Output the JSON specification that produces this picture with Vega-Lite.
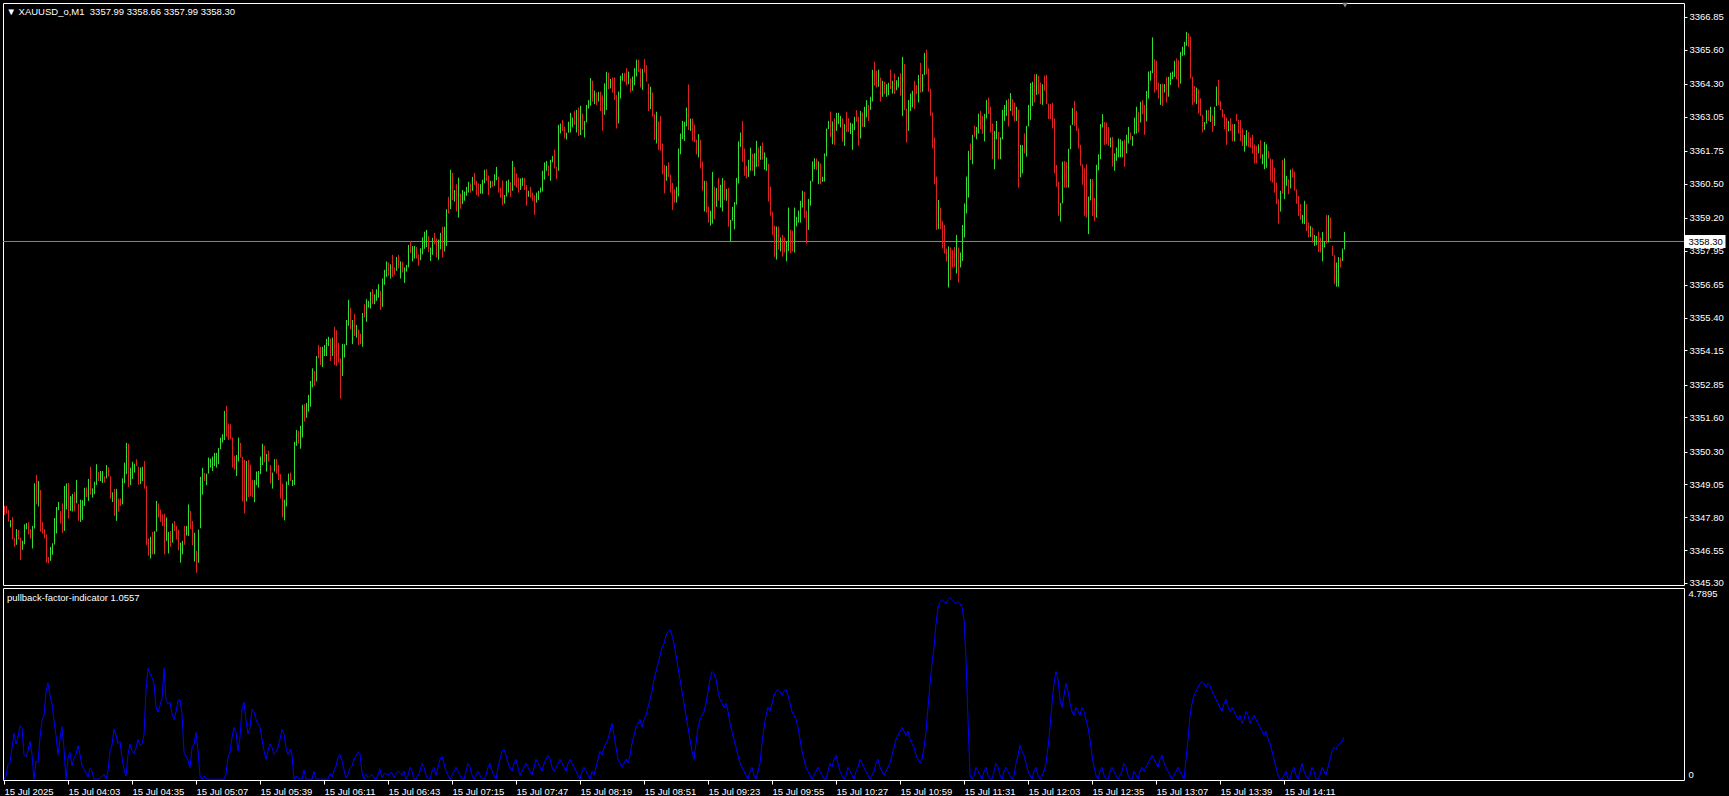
{
"$schema": "https://vega.github.io/schema/vega-lite/v6.json",
"background": "#000000",
"padding": {"left": 1, "top": 2, "right": 0, "bottom": 0},
"config": {
"view": {"stroke": "#ffffff", "strokeWidth": 1, "fill": "#000000"},
"font": "Liberation Sans",
"axis": {"labelFont": "Liberation Sans", "labelFontSize": 9.5, "labelColor": "#ffffff", "tickColor": "#ffffff", "domain": false, "grid": false, "labelOverlap": false},
"title": {"font": "Liberation Sans", "fontSize": 9.5, "fontWeight": "normal", "color": "#ffffff", "anchor": "start", "baseline": "bottom"}
},
"spacing": 3,
"bounds": "flush",
"datasets": {"bars": [
{"m":211,"o":3348.23,"h":3348.23,"l":3347.89,"c":3347.89,"p":0},
{"m":212,"o":3348.23,"h":3348.23,"l":3347.94,"c":3347.94,"p":0.08},
{"m":213,"o":3348.08,"h":3348.08,"l":3347.63,"c":3347.63,"p":0.37},
{"m":214,"o":3347.41,"h":3347.69,"l":3347.41,"c":3347.69,"p":0.41},
{"m":215,"o":3347.81,"h":3347.81,"l":3346.96,"c":3346.96,"p":0.79},
{"m":216,"o":3347.02,"h":3347.02,"l":3346.67,"c":3346.67,"p":1.15},
{"m":217,"o":3346.75,"h":3347.35,"l":3346.75,"c":3347.35,"p":0.88},
{"m":218,"o":3347.32,"h":3347.32,"l":3346.94,"c":3346.94,"p":1.05},
{"m":219,"o":3347.02,"h":3347.02,"l":3346.17,"c":3346.17,"p":1.34},
{"m":220,"o":3346.56,"h":3346.90,"l":3346.56,"c":3346.90,"p":1.30},
{"m":221,"o":3346.77,"h":3347.53,"l":3346.77,"c":3347.53,"p":0.61},
{"m":222,"o":3347.34,"h":3347.58,"l":3347.34,"c":3347.58,"p":0.56},
{"m":223,"o":3347.61,"h":3347.61,"l":3347.15,"c":3347.15,"p":0.71},
{"m":224,"o":3347.34,"h":3347.34,"l":3346.99,"c":3346.99,"p":0.95},
{"m":225,"o":3346.61,"h":3347.47,"l":3346.61,"c":3347.47,"p":0.62},
{"m":226,"o":3347.37,"h":3349.09,"l":3347.37,"c":3349.09,"p":0},
{"m":227,"o":3349.41,"h":3349.41,"l":3348.29,"c":3348.29,"p":0.46},
{"m":228,"o":3348.21,"h":3349.18,"l":3348.21,"c":3349.18,"p":0.41},
{"m":229,"o":3348.84,"h":3348.84,"l":3347.25,"c":3347.25,"p":1.05},
{"m":230,"o":3347.62,"h":3347.62,"l":3347.18,"c":3347.18,"p":1.47},
{"m":231,"o":3347.35,"h":3347.35,"l":3347.00,"c":3347.00,"p":1.59},
{"m":232,"o":3347.15,"h":3347.15,"l":3346.07,"c":3346.07,"p":2.19},
{"m":233,"o":3346.29,"h":3346.29,"l":3346.04,"c":3346.04,"p":2.41},
{"m":234,"o":3346.14,"h":3346.67,"l":3346.14,"c":3346.67,"p":2.10},
{"m":235,"o":3346.37,"h":3346.81,"l":3346.37,"c":3346.81,"p":1.89},
{"m":236,"o":3346.76,"h":3347.77,"l":3346.76,"c":3347.77,"p":1.47},
{"m":237,"o":3347.18,"h":3348.19,"l":3347.18,"c":3348.19,"p":1.09},
{"m":238,"o":3348.07,"h":3348.38,"l":3348.07,"c":3348.38,"p":0.62},
{"m":239,"o":3348.04,"h":3348.04,"l":3347.56,"c":3347.56,"p":1.00},
{"m":240,"o":3348.33,"h":3348.33,"l":3347.20,"c":3347.20,"p":1.32},
{"m":241,"o":3347.28,"h":3348.99,"l":3347.28,"c":3348.99,"p":0.75},
{"m":242,"o":3348.10,"h":3349.09,"l":3348.10,"c":3349.09,"p":0},
{"m":243,"o":3349.11,"h":3349.11,"l":3347.75,"c":3347.75,"p":0.54},
{"m":244,"o":3348.04,"h":3348.60,"l":3348.04,"c":3348.60,"p":0.67},
{"m":245,"o":3348.02,"h":3348.69,"l":3348.02,"c":3348.69,"p":0.33},
{"m":246,"o":3348.76,"h":3348.76,"l":3348.02,"c":3348.02,"p":0.54},
{"m":247,"o":3348.33,"h":3349.22,"l":3348.33,"c":3349.22,"p":0.62},
{"m":248,"o":3348.31,"h":3348.31,"l":3347.66,"c":3347.66,"p":0.84},
{"m":249,"o":3347.62,"h":3348.47,"l":3347.62,"c":3348.47,"p":0.62},
{"m":250,"o":3347.70,"h":3348.45,"l":3347.70,"c":3348.45,"p":0.33},
{"m":251,"o":3348.23,"h":3348.92,"l":3348.23,"c":3348.92,"p":0.26},
{"m":252,"o":3348.94,"h":3348.94,"l":3348.57,"c":3348.57,"p":0.16},
{"m":253,"o":3348.42,"h":3349.26,"l":3348.42,"c":3349.26,"p":0.05},
{"m":254,"o":3349.72,"h":3349.72,"l":3348.66,"c":3348.66,"p":0.27},
{"m":255,"o":3348.55,"h":3348.90,"l":3348.55,"c":3348.90,"p":0.20},
{"m":256,"o":3348.68,"h":3349.15,"l":3348.68,"c":3349.15,"p":0},
{"m":257,"o":3349.03,"h":3349.82,"l":3349.03,"c":3349.82,"p":0},
{"m":258,"o":3349.53,"h":3349.53,"l":3349.18,"c":3349.18,"p":0},
{"m":259,"o":3349.18,"h":3349.56,"l":3349.18,"c":3349.56,"p":0.03},
{"m":260,"o":3349.11,"h":3349.56,"l":3349.11,"c":3349.56,"p":0.08},
{"m":261,"o":3349.36,"h":3349.36,"l":3349.12,"c":3349.12,"p":0.12},
{"m":262,"o":3349.28,"h":3349.79,"l":3349.28,"c":3349.79,"p":0},
{"m":263,"o":3349.70,"h":3349.70,"l":3349.35,"c":3349.35,"p":0.20},
{"m":264,"o":3349.36,"h":3349.36,"l":3348.51,"c":3348.51,"p":0.71},
{"m":265,"o":3348.38,"h":3348.75,"l":3348.38,"c":3348.75,"p":0.86},
{"m":266,"o":3348.88,"h":3348.88,"l":3347.85,"c":3347.85,"p":1.26},
{"m":267,"o":3347.66,"h":3348.88,"l":3347.66,"c":3348.88,"p":1.11},
{"m":268,"o":3348.51,"h":3348.51,"l":3348.02,"c":3348.02,"p":0.89},
{"m":269,"o":3348.52,"h":3348.52,"l":3348.23,"c":3348.23,"p":0.95},
{"m":270,"o":3348.29,"h":3349.28,"l":3348.29,"c":3349.28,"p":0.54},
{"m":271,"o":3349.09,"h":3349.88,"l":3349.09,"c":3349.88,"p":0.24},
{"m":272,"o":3349.44,"h":3350.63,"l":3349.44,"c":3350.63,"p":0.08},
{"m":273,"o":3350.60,"h":3350.60,"l":3348.95,"c":3348.95,"p":0.62},
{"m":274,"o":3349.02,"h":3349.69,"l":3349.02,"c":3349.69,"p":0.88},
{"m":275,"o":3349.26,"h":3349.91,"l":3349.26,"c":3349.91,"p":0.71},
{"m":276,"o":3349.50,"h":3349.84,"l":3349.50,"c":3349.84,"p":0.64},
{"m":277,"o":3350.01,"h":3350.01,"l":3349.75,"c":3349.75,"p":0.79},
{"m":278,"o":3349.73,"h":3349.73,"l":3349.04,"c":3349.04,"p":1.00},
{"m":279,"o":3349.06,"h":3349.69,"l":3349.06,"c":3349.69,"p":0.84},
{"m":280,"o":3349.18,"h":3349.72,"l":3349.18,"c":3349.72,"p":0.88},
{"m":281,"o":3349.94,"h":3349.94,"l":3348.89,"c":3348.89,"p":1.11},
{"m":282,"o":3348.99,"h":3348.99,"l":3346.75,"c":3346.75,"p":2.23},
{"m":283,"o":3346.99,"h":3346.99,"l":3346.33,"c":3346.33,"p":2.78},
{"m":284,"o":3346.23,"h":3347.06,"l":3346.23,"c":3347.06,"p":2.65},
{"m":285,"o":3347.24,"h":3347.24,"l":3346.39,"c":3346.39,"p":2.55},
{"m":286,"o":3346.39,"h":3347.27,"l":3346.39,"c":3347.27,"p":2.40},
{"m":287,"o":3347.25,"h":3348.42,"l":3347.25,"c":3348.42,"p":1.81},
{"m":288,"o":3348.32,"h":3348.32,"l":3347.79,"c":3347.79,"p":1.68},
{"m":289,"o":3348.09,"h":3348.09,"l":3347.62,"c":3347.62,"p":1.85},
{"m":290,"o":3347.91,"h":3347.91,"l":3347.47,"c":3347.47,"p":2.02},
{"m":291,"o":3347.94,"h":3347.94,"l":3346.39,"c":3346.39,"p":2.78},
{"m":292,"o":3346.90,"h":3347.79,"l":3346.90,"c":3347.79,"p":1.97},
{"m":293,"o":3346.42,"h":3347.24,"l":3346.42,"c":3347.24,"p":1.89},
{"m":294,"o":3347.28,"h":3347.28,"l":3346.67,"c":3346.67,"p":1.93},
{"m":295,"o":3346.83,"h":3347.57,"l":3346.83,"c":3347.57,"p":1.64},
{"m":296,"o":3347.66,"h":3347.66,"l":3347.28,"c":3347.28,"p":1.49},
{"m":297,"o":3347.47,"h":3347.47,"l":3346.96,"c":3346.96,"p":1.68},
{"m":298,"o":3347.32,"h":3347.32,"l":3346.54,"c":3346.54,"p":1.97},
{"m":299,"o":3346.07,"h":3346.83,"l":3346.07,"c":3346.83,"p":1.99},
{"m":300,"o":3346.39,"h":3346.90,"l":3346.39,"c":3346.90,"p":1.64},
{"m":301,"o":3347.47,"h":3347.47,"l":3346.75,"c":3346.75,"p":0.67},
{"m":302,"o":3347.10,"h":3347.47,"l":3347.10,"c":3347.47,"p":0.58},
{"m":303,"o":3347.09,"h":3348.29,"l":3347.09,"c":3348.29,"p":0.46},
{"m":304,"o":3348.04,"h":3348.04,"l":3347.35,"c":3347.35,"p":0.29},
{"m":305,"o":3347.66,"h":3347.66,"l":3346.73,"c":3346.73,"p":0.79},
{"m":306,"o":3346.11,"h":3347.21,"l":3346.11,"c":3347.21,"p":0.88},
{"m":307,"o":3346.52,"h":3346.52,"l":3345.69,"c":3345.69,"p":1.17},
{"m":308,"o":3346.07,"h":3347.33,"l":3346.07,"c":3347.33,"p":0.71},
{"m":309,"o":3347.38,"h":3349.34,"l":3347.38,"c":3349.34,"p":0.08},
{"m":310,"o":3348.66,"h":3349.68,"l":3348.66,"c":3349.68,"p":0},
{"m":311,"o":3349.49,"h":3349.49,"l":3349.18,"c":3349.18,"p":0.08},
{"m":312,"o":3349.02,"h":3349.46,"l":3349.02,"c":3349.46,"p":0.03},
{"m":313,"o":3349.46,"h":3350.07,"l":3349.46,"c":3350.07,"p":0},
{"m":314,"o":3349.69,"h":3350.03,"l":3349.69,"c":3350.03,"p":0},
{"m":315,"o":3349.56,"h":3350.11,"l":3349.56,"c":3350.11,"p":0},
{"m":316,"o":3349.75,"h":3350.25,"l":3349.75,"c":3350.25,"p":0},
{"m":317,"o":3349.69,"h":3350.25,"l":3349.69,"c":3350.25,"p":0},
{"m":318,"o":3349.82,"h":3350.43,"l":3349.82,"c":3350.43,"p":0},
{"m":319,"o":3350.39,"h":3350.83,"l":3350.39,"c":3350.83,"p":0},
{"m":320,"o":3350.64,"h":3350.96,"l":3350.64,"c":3350.96,"p":0},
{"m":321,"o":3350.74,"h":3351.85,"l":3350.74,"c":3351.85,"p":0},
{"m":322,"o":3352.04,"h":3352.04,"l":3350.87,"c":3350.87,"p":0.12},
{"m":323,"o":3351.37,"h":3351.37,"l":3350.74,"c":3350.74,"p":0.56},
{"m":324,"o":3351.34,"h":3351.34,"l":3350.77,"c":3350.77,"p":0.67},
{"m":325,"o":3350.83,"h":3350.83,"l":3349.69,"c":3349.69,"p":1.05},
{"m":326,"o":3350.13,"h":3350.13,"l":3349.61,"c":3349.61,"p":1.30},
{"m":327,"o":3349.37,"h":3350.17,"l":3349.37,"c":3350.17,"p":1.17},
{"m":328,"o":3349.92,"h":3350.83,"l":3349.92,"c":3350.83,"p":0.71},
{"m":329,"o":3350.63,"h":3350.63,"l":3350.07,"c":3350.07,"p":1.05},
{"m":330,"o":3350.10,"h":3350.10,"l":3348.40,"c":3348.40,"p":1.76},
{"m":331,"o":3349.99,"h":3349.99,"l":3347.94,"c":3347.94,"p":1.93},
{"m":332,"o":3348.40,"h":3349.94,"l":3348.40,"c":3349.94,"p":1.47},
{"m":333,"o":3349.98,"h":3349.98,"l":3348.57,"c":3348.57,"p":1.13},
{"m":334,"o":3349.80,"h":3349.80,"l":3348.60,"c":3348.60,"p":1.30},
{"m":335,"o":3349.22,"h":3349.22,"l":3348.57,"c":3348.57,"p":1.76},
{"m":336,"o":3348.37,"h":3349.21,"l":3348.37,"c":3349.21,"p":1.68},
{"m":337,"o":3349.02,"h":3349.54,"l":3349.02,"c":3349.54,"p":1.51},
{"m":338,"o":3348.93,"h":3349.56,"l":3348.93,"c":3349.56,"p":1.38},
{"m":339,"o":3349.44,"h":3350.11,"l":3349.44,"c":3350.11,"p":1.30},
{"m":340,"o":3349.79,"h":3350.60,"l":3349.79,"c":3350.60,"p":1.00},
{"m":341,"o":3350.52,"h":3350.52,"l":3349.89,"c":3349.89,"p":0.71},
{"m":342,"o":3349.54,"h":3350.21,"l":3349.54,"c":3350.21,"p":0.50},
{"m":343,"o":3350.33,"h":3350.33,"l":3349.92,"c":3349.92,"p":0.71},
{"m":344,"o":3349.79,"h":3349.79,"l":3349.08,"c":3349.08,"p":0.89},
{"m":345,"o":3348.89,"h":3349.50,"l":3348.89,"c":3349.50,"p":0.79},
{"m":346,"o":3349.54,"h":3350.01,"l":3349.54,"c":3350.01,"p":0.62},
{"m":347,"o":3350.02,"h":3350.02,"l":3349.46,"c":3349.46,"p":0.67},
{"m":348,"o":3349.80,"h":3349.80,"l":3349.21,"c":3349.21,"p":0.79},
{"m":349,"o":3349.44,"h":3349.44,"l":3348.51,"c":3348.51,"p":1.00},
{"m":350,"o":3349.08,"h":3349.08,"l":3347.79,"c":3347.79,"p":1.25},
{"m":351,"o":3347.68,"h":3348.47,"l":3347.68,"c":3348.47,"p":1.13},
{"m":352,"o":3348.21,"h":3349.16,"l":3348.21,"c":3349.16,"p":0.79},
{"m":353,"o":3349.03,"h":3349.46,"l":3349.03,"c":3349.46,"p":0.62},
{"m":354,"o":3349.50,"h":3349.50,"l":3349.18,"c":3349.18,"p":0.75},
{"m":355,"o":3348.99,"h":3349.22,"l":3348.99,"c":3349.22,"p":0.62},
{"m":356,"o":3349.03,"h":3350.67,"l":3349.03,"c":3350.67,"p":0},
{"m":357,"o":3350.52,"h":3351.12,"l":3350.52,"c":3351.12,"p":0.08},
{"m":358,"o":3351.09,"h":3351.09,"l":3350.60,"c":3350.60,"p":0.03},
{"m":359,"o":3350.41,"h":3351.28,"l":3350.41,"c":3351.28,"p":0},
{"m":360,"o":3350.83,"h":3352.08,"l":3350.83,"c":3352.08,"p":0},
{"m":361,"o":3352.10,"h":3352.10,"l":3351.44,"c":3351.44,"p":0.24},
{"m":362,"o":3351.59,"h":3352.15,"l":3351.59,"c":3352.15,"p":0},
{"m":363,"o":3351.82,"h":3352.46,"l":3351.82,"c":3352.46,"p":0},
{"m":364,"o":3352.01,"h":3352.99,"l":3352.01,"c":3352.99,"p":0},
{"m":365,"o":3352.74,"h":3353.47,"l":3352.74,"c":3353.47,"p":0},
{"m":366,"o":3353.37,"h":3353.37,"l":3352.80,"c":3352.80,"p":0.20},
{"m":367,"o":3352.97,"h":3353.94,"l":3352.97,"c":3353.94,"p":0},
{"m":368,"o":3354.36,"h":3354.36,"l":3353.85,"c":3353.85,"p":0},
{"m":369,"o":3354.29,"h":3354.29,"l":3353.60,"c":3353.60,"p":0},
{"m":370,"o":3353.52,"h":3354.29,"l":3353.52,"c":3354.29,"p":0},
{"m":371,"o":3353.94,"h":3354.36,"l":3353.94,"c":3354.36,"p":0},
{"m":372,"o":3353.94,"h":3354.59,"l":3353.94,"c":3354.59,"p":0},
{"m":373,"o":3354.32,"h":3354.67,"l":3354.32,"c":3354.67,"p":0},
{"m":374,"o":3354.60,"h":3354.60,"l":3353.75,"c":3353.75,"p":0.14},
{"m":375,"o":3353.94,"h":3354.64,"l":3353.94,"c":3354.64,"p":0.05},
{"m":376,"o":3355.05,"h":3355.05,"l":3353.60,"c":3353.60,"p":0.20},
{"m":377,"o":3354.92,"h":3354.92,"l":3353.56,"c":3353.56,"p":0.33},
{"m":378,"o":3354.44,"h":3354.44,"l":3353.69,"c":3353.69,"p":0.54},
{"m":379,"o":3353.85,"h":3353.85,"l":3352.32,"c":3352.32,"p":0.62},
{"m":380,"o":3353.18,"h":3354.40,"l":3353.18,"c":3354.40,"p":0.46},
{"m":381,"o":3353.88,"h":3354.39,"l":3353.88,"c":3354.39,"p":0.24},
{"m":382,"o":3354.35,"h":3355.31,"l":3354.35,"c":3355.31,"p":0.03},
{"m":383,"o":3355.09,"h":3356.08,"l":3355.09,"c":3356.08,"p":0.12},
{"m":384,"o":3355.78,"h":3355.78,"l":3354.96,"c":3354.96,"p":0.27},
{"m":385,"o":3354.39,"h":3355.31,"l":3354.39,"c":3355.31,"p":0.33},
{"m":386,"o":3355.54,"h":3355.54,"l":3354.70,"c":3354.70,"p":0.50},
{"m":387,"o":3354.64,"h":3355.12,"l":3354.64,"c":3355.12,"p":0.58},
{"m":388,"o":3354.95,"h":3354.95,"l":3354.36,"c":3354.36,"p":0.69},
{"m":389,"o":3354.79,"h":3354.79,"l":3354.39,"c":3354.39,"p":0.64},
{"m":390,"o":3354.29,"h":3355.58,"l":3354.29,"c":3355.58,"p":0.16},
{"m":391,"o":3355.91,"h":3355.91,"l":3355.40,"c":3355.40,"p":0},
{"m":392,"o":3355.24,"h":3356.10,"l":3355.24,"c":3356.10,"p":0.12},
{"m":393,"o":3355.78,"h":3356.04,"l":3355.78,"c":3356.04,"p":0.03},
{"m":394,"o":3355.75,"h":3356.38,"l":3355.75,"c":3356.38,"p":0.08},
{"m":395,"o":3356.49,"h":3356.49,"l":3355.91,"c":3355.91,"p":0.12},
{"m":396,"o":3355.91,"h":3356.29,"l":3355.91,"c":3356.29,"p":0.03},
{"m":397,"o":3356.04,"h":3356.48,"l":3356.04,"c":3356.48,"p":0},
{"m":398,"o":3356.16,"h":3356.67,"l":3356.16,"c":3356.67,"p":0.12},
{"m":399,"o":3356.42,"h":3356.42,"l":3355.69,"c":3355.69,"p":0.26},
{"m":400,"o":3355.81,"h":3356.89,"l":3355.81,"c":3356.89,"p":0.03},
{"m":401,"o":3356.65,"h":3357.22,"l":3356.65,"c":3357.22,"p":0.14},
{"m":402,"o":3356.95,"h":3357.54,"l":3356.95,"c":3357.54,"p":0.14},
{"m":403,"o":3357.50,"h":3357.50,"l":3356.99,"c":3356.99,"p":0.10},
{"m":404,"o":3356.89,"h":3357.43,"l":3356.89,"c":3357.43,"p":0.16},
{"m":405,"o":3357.79,"h":3357.79,"l":3356.95,"c":3356.95,"p":0.16},
{"m":406,"o":3357.31,"h":3357.31,"l":3357.03,"c":3357.03,"p":0.03},
{"m":407,"o":3357.18,"h":3357.71,"l":3357.18,"c":3357.71,"p":0.14},
{"m":408,"o":3357.79,"h":3357.79,"l":3357.28,"c":3357.28,"p":0.20},
{"m":409,"o":3356.89,"h":3357.54,"l":3356.89,"c":3357.54,"p":0.16},
{"m":410,"o":3357.52,"h":3357.52,"l":3357.12,"c":3357.12,"p":0.1},
{"m":411,"o":3356.72,"h":3357.31,"l":3356.72,"c":3357.31,"p":0.2},
{"m":412,"o":3357.15,"h":3357.41,"l":3357.15,"c":3357.41,"p":0},
{"m":413,"o":3357.31,"h":3358.17,"l":3357.31,"c":3358.17,"p":0.1},
{"m":414,"o":3358.32,"h":3358.32,"l":3357.87,"c":3357.87,"p":0.3},
{"m":415,"o":3357.54,"h":3358.12,"l":3357.54,"c":3358.12,"p":0.2},
{"m":416,"o":3357.65,"h":3358.13,"l":3357.65,"c":3358.13,"p":0},
{"m":417,"o":3358.09,"h":3358.09,"l":3357.65,"c":3357.65,"p":0},
{"m":418,"o":3357.81,"h":3357.81,"l":3357.37,"c":3357.37,"p":0.1},
{"m":419,"o":3357.59,"h":3358.04,"l":3357.59,"c":3358.04,"p":0.2},
{"m":420,"o":3357.81,"h":3358.46,"l":3357.81,"c":3358.46,"p":0.4},
{"m":421,"o":3358.02,"h":3358.67,"l":3358.02,"c":3358.67,"p":0.3},
{"m":422,"o":3358.09,"h":3358.74,"l":3358.09,"c":3358.74,"p":0.1},
{"m":423,"o":3358.50,"h":3358.50,"l":3357.89,"c":3357.89,"p":0},
{"m":424,"o":3357.56,"h":3358.07,"l":3357.56,"c":3358.07,"p":0},
{"m":425,"o":3357.79,"h":3358.44,"l":3357.79,"c":3358.44,"p":0.2},
{"m":426,"o":3358.63,"h":3358.63,"l":3358.19,"c":3358.19,"p":0.3},
{"m":427,"o":3358.42,"h":3358.42,"l":3357.69,"c":3357.69,"p":0.1},
{"m":428,"o":3357.60,"h":3358.37,"l":3357.60,"c":3358.37,"p":0.3},
{"m":429,"o":3358.00,"h":3358.63,"l":3358.00,"c":3358.63,"p":0.5},
{"m":430,"o":3358.86,"h":3358.86,"l":3357.69,"c":3357.69,"p":0.57},
{"m":431,"o":3357.92,"h":3358.86,"l":3357.92,"c":3358.86,"p":0.4},
{"m":432,"o":3358.13,"h":3359.53,"l":3358.13,"c":3359.53,"p":0.2},
{"m":433,"o":3360.00,"h":3360.00,"l":3359.36,"c":3359.36,"p":0.1},
{"m":434,"o":3359.53,"h":3361.03,"l":3359.53,"c":3361.03,"p":0},
{"m":435,"o":3360.91,"h":3360.91,"l":3359.87,"c":3359.87,"p":0.1},
{"m":436,"o":3359.81,"h":3360.26,"l":3359.81,"c":3360.26,"p":0.2},
{"m":437,"o":3360.48,"h":3360.48,"l":3359.44,"c":3359.44,"p":0.3},
{"m":438,"o":3359.21,"h":3360.73,"l":3359.21,"c":3360.73,"p":0.2},
{"m":439,"o":3360.12,"h":3360.12,"l":3359.55,"c":3359.55,"p":0.1},
{"m":440,"o":3359.72,"h":3360.26,"l":3359.72,"c":3360.26,"p":0},
{"m":441,"o":3359.85,"h":3360.20,"l":3359.85,"c":3360.20,"p":0},
{"m":442,"o":3360.04,"h":3360.38,"l":3360.04,"c":3360.38,"p":0.2},
{"m":443,"o":3360.16,"h":3360.57,"l":3360.16,"c":3360.57,"p":0.4},
{"m":444,"o":3360.51,"h":3360.51,"l":3360.16,"c":3360.16,"p":0.3},
{"m":445,"o":3360.23,"h":3360.76,"l":3360.23,"c":3360.76,"p":0.1},
{"m":446,"o":3360.91,"h":3360.91,"l":3360.45,"c":3360.45,"p":0},
{"m":447,"o":3360.61,"h":3360.61,"l":3360.07,"c":3360.07,"p":0.1},
{"m":448,"o":3360.51,"h":3360.51,"l":3360.01,"c":3360.01,"p":0.2},
{"m":449,"o":3360.12,"h":3360.48,"l":3360.12,"c":3360.48,"p":0.1},
{"m":450,"o":3360.12,"h":3360.65,"l":3360.12,"c":3360.65,"p":0},
{"m":451,"o":3360.51,"h":3361.03,"l":3360.51,"c":3361.03,"p":0},
{"m":452,"o":3361.06,"h":3361.06,"l":3360.61,"c":3360.61,"p":0.1},
{"m":453,"o":3360.81,"h":3360.81,"l":3360.07,"c":3360.07,"p":0.3},
{"m":454,"o":3360.33,"h":3360.61,"l":3360.33,"c":3360.61,"p":0.4},
{"m":455,"o":3360.61,"h":3360.61,"l":3360.38,"c":3360.38,"p":0.2},
{"m":456,"o":3360.42,"h":3360.86,"l":3360.42,"c":3360.86,"p":0.1},
{"m":457,"o":3360.63,"h":3361.14,"l":3360.63,"c":3361.14,"p":0},
{"m":458,"o":3360.77,"h":3360.77,"l":3360.16,"c":3360.16,"p":0.3},
{"m":459,"o":3360.35,"h":3360.35,"l":3359.97,"c":3359.97,"p":0.5},
{"m":460,"o":3360.63,"h":3360.63,"l":3359.69,"c":3359.69,"p":0.7},
{"m":461,"o":3359.74,"h":3360.07,"l":3359.74,"c":3360.07,"p":0.75},
{"m":462,"o":3360.01,"h":3360.61,"l":3360.01,"c":3360.61,"p":0.6},
{"m":463,"o":3360.16,"h":3360.65,"l":3360.16,"c":3360.65,"p":0.4},
{"m":464,"o":3360.56,"h":3360.56,"l":3360.00,"c":3360.00,"p":0.3},
{"m":465,"o":3360.23,"h":3361.37,"l":3360.23,"c":3361.37,"p":0.2},
{"m":466,"o":3361.14,"h":3361.14,"l":3360.42,"c":3360.42,"p":0.4},
{"m":467,"o":3360.89,"h":3360.89,"l":3360.35,"c":3360.35,"p":0.5},
{"m":468,"o":3360.73,"h":3360.73,"l":3360.16,"c":3360.16,"p":0.3},
{"m":469,"o":3360.26,"h":3360.70,"l":3360.26,"c":3360.70,"p":0.1},
{"m":470,"o":3360.42,"h":3360.73,"l":3360.42,"c":3360.73,"p":0.2},
{"m":471,"o":3360.72,"h":3360.72,"l":3360.26,"c":3360.26,"p":0.3},
{"m":472,"o":3360.45,"h":3360.45,"l":3359.66,"c":3359.66,"p":0.4},
{"m":473,"o":3360.00,"h":3360.23,"l":3360.00,"c":3360.23,"p":0.3},
{"m":474,"o":3360.38,"h":3360.38,"l":3359.97,"c":3359.97,"p":0.2},
{"m":475,"o":3360.16,"h":3360.16,"l":3359.85,"c":3359.85,"p":0.1},
{"m":476,"o":3360.06,"h":3360.06,"l":3359.31,"c":3359.31,"p":0.3},
{"m":477,"o":3359.78,"h":3360.16,"l":3359.78,"c":3360.16,"p":0.5},
{"m":478,"o":3359.88,"h":3360.23,"l":3359.88,"c":3360.23,"p":0.4},
{"m":479,"o":3360.16,"h":3360.35,"l":3360.16,"c":3360.35,"p":0.3},
{"m":480,"o":3360.20,"h":3360.99,"l":3360.20,"c":3360.99,"p":0.2},
{"m":481,"o":3360.65,"h":3361.31,"l":3360.65,"c":3361.31,"p":0.4},
{"m":482,"o":3360.99,"h":3361.37,"l":3360.99,"c":3361.37,"p":0.5},
{"m":483,"o":3361.19,"h":3361.19,"l":3360.80,"c":3360.80,"p":0.6},
{"m":484,"o":3360.61,"h":3361.41,"l":3360.61,"c":3361.41,"p":0.5},
{"m":485,"o":3361.31,"h":3361.56,"l":3361.31,"c":3361.56,"p":0.3},
{"m":486,"o":3361.79,"h":3361.79,"l":3361.08,"c":3361.08,"p":0.2},
{"m":487,"o":3361.14,"h":3361.14,"l":3360.67,"c":3360.67,"p":0.3},
{"m":488,"o":3360.99,"h":3362.74,"l":3360.99,"c":3362.74,"p":0.4},
{"m":489,"o":3362.41,"h":3362.79,"l":3362.41,"c":3362.79,"p":0.5},
{"m":490,"o":3362.92,"h":3362.92,"l":3362.51,"c":3362.51,"p":0.4},
{"m":491,"o":3362.67,"h":3362.67,"l":3362.22,"c":3362.22,"p":0.3},
{"m":492,"o":3362.18,"h":3362.44,"l":3362.18,"c":3362.44,"p":0.2},
{"m":493,"o":3362.44,"h":3362.86,"l":3362.44,"c":3362.86,"p":0.4},
{"m":494,"o":3362.45,"h":3363.20,"l":3362.45,"c":3363.20,"p":0.5},
{"m":495,"o":3362.64,"h":3363.02,"l":3362.64,"c":3363.02,"p":0.4},
{"m":496,"o":3363.27,"h":3363.27,"l":3362.74,"c":3362.74,"p":0.3},
{"m":497,"o":3362.45,"h":3363.31,"l":3362.45,"c":3363.31,"p":0.2},
{"m":498,"o":3363.40,"h":3363.40,"l":3362.32,"c":3362.32,"p":0.1},
{"m":499,"o":3362.35,"h":3363.47,"l":3362.35,"c":3363.47,"p":0},
{"m":500,"o":3363.17,"h":3363.17,"l":3362.54,"c":3362.54,"p":0.2},
{"m":501,"o":3362.26,"h":3362.89,"l":3362.26,"c":3362.89,"p":0.3},
{"m":502,"o":3362.83,"h":3363.50,"l":3362.83,"c":3363.50,"p":0.2},
{"m":503,"o":3363.36,"h":3363.68,"l":3363.36,"c":3363.68,"p":0.1},
{"m":504,"o":3363.47,"h":3364.52,"l":3363.47,"c":3364.52,"p":0},
{"m":505,"o":3364.42,"h":3364.42,"l":3363.62,"c":3363.62,"p":0.2},
{"m":506,"o":3363.53,"h":3364.04,"l":3363.53,"c":3364.04,"p":0.1},
{"m":507,"o":3363.97,"h":3363.97,"l":3363.50,"c":3363.50,"p":0.3},
{"m":508,"o":3363.63,"h":3364.00,"l":3363.63,"c":3364.00,"p":0.5},
{"m":509,"o":3364.00,"h":3364.00,"l":3363.27,"c":3363.27,"p":0.7},
{"m":510,"o":3363.87,"h":3363.87,"l":3362.51,"c":3362.51,"p":0.6},
{"m":511,"o":3363.12,"h":3364.32,"l":3363.12,"c":3364.32,"p":0.8},
{"m":512,"o":3363.31,"h":3364.76,"l":3363.31,"c":3364.76,"p":0.9},
{"m":513,"o":3364.73,"h":3364.73,"l":3364.10,"c":3364.10,"p":1.0},
{"m":514,"o":3364.13,"h":3364.49,"l":3364.13,"c":3364.49,"p":1.2},
{"m":515,"o":3364.54,"h":3364.54,"l":3363.97,"c":3363.97,"p":1.4},
{"m":516,"o":3364.54,"h":3364.54,"l":3363.69,"c":3363.69,"p":1.1},
{"m":517,"o":3363.88,"h":3363.88,"l":3362.60,"c":3362.60,"p":0.8},
{"m":518,"o":3362.79,"h":3364.01,"l":3362.79,"c":3364.01,"p":0.5},
{"m":519,"o":3363.74,"h":3364.61,"l":3363.74,"c":3364.61,"p":0.4},
{"m":520,"o":3364.42,"h":3364.71,"l":3364.42,"c":3364.71,"p":0.3},
{"m":521,"o":3364.72,"h":3364.72,"l":3364.38,"c":3364.38,"p":0.4},
{"m":522,"o":3364.90,"h":3364.90,"l":3364.25,"c":3364.25,"p":0.5},
{"m":523,"o":3364.29,"h":3364.77,"l":3364.29,"c":3364.77,"p":0.4},
{"m":524,"o":3364.51,"h":3364.51,"l":3363.97,"c":3363.97,"p":0.6},
{"m":525,"o":3364.04,"h":3364.58,"l":3364.04,"c":3364.58,"p":0.9},
{"m":526,"o":3364.25,"h":3364.90,"l":3364.25,"c":3364.90,"p":1.1},
{"m":527,"o":3364.58,"h":3365.22,"l":3364.58,"c":3365.22,"p":1.3},
{"m":528,"o":3365.22,"h":3365.22,"l":3364.76,"c":3364.76,"p":1.4},
{"m":529,"o":3364.89,"h":3364.89,"l":3364.16,"c":3364.16,"p":1.5},
{"m":530,"o":3364.07,"h":3364.87,"l":3364.07,"c":3364.87,"p":1.3},
{"m":531,"o":3365.24,"h":3365.24,"l":3364.73,"c":3364.73,"p":1.5},
{"m":532,"o":3365.01,"h":3365.01,"l":3364.39,"c":3364.39,"p":1.6},
{"m":533,"o":3364.31,"h":3364.31,"l":3363.27,"c":3363.27,"p":1.8},
{"m":534,"o":3363.34,"h":3364.19,"l":3363.34,"c":3364.19,"p":2.0},
{"m":535,"o":3363.97,"h":3363.97,"l":3363.05,"c":3363.05,"p":2.2},
{"m":536,"o":3363.15,"h":3363.15,"l":3362.16,"c":3362.16,"p":2.5},
{"m":537,"o":3362.03,"h":3363.24,"l":3362.03,"c":3363.24,"p":2.7},
{"m":538,"o":3362.87,"h":3362.87,"l":3361.79,"c":3361.79,"p":2.9},
{"m":539,"o":3363.08,"h":3363.08,"l":3361.75,"c":3361.75,"p":3.1},
{"m":540,"o":3362.03,"h":3362.03,"l":3360.86,"c":3360.86,"p":3.3},
{"m":541,"o":3361.22,"h":3361.22,"l":3360.13,"c":3360.13,"p":3.4},
{"m":542,"o":3360.61,"h":3361.18,"l":3360.61,"c":3361.18,"p":3.6},
{"m":543,"o":3361.31,"h":3361.31,"l":3360.76,"c":3360.76,"p":3.7},
{"m":544,"o":3360.84,"h":3360.84,"l":3360.16,"c":3360.16,"p":3.75},
{"m":545,"o":3360.53,"h":3360.53,"l":3359.50,"c":3359.50,"p":3.6},
{"m":546,"o":3360.29,"h":3360.29,"l":3359.78,"c":3359.78,"p":3.4},
{"m":547,"o":3359.78,"h":3360.38,"l":3359.78,"c":3360.38,"p":3.1},
{"m":548,"o":3360.01,"h":3361.84,"l":3360.01,"c":3361.84,"p":2.8},
{"m":549,"o":3361.62,"h":3362.41,"l":3361.62,"c":3362.41,"p":2.5},
{"m":550,"o":3362.20,"h":3362.89,"l":3362.20,"c":3362.89,"p":2.2},
{"m":551,"o":3362.13,"h":3362.86,"l":3362.13,"c":3362.86,"p":1.9},
{"m":552,"o":3362.68,"h":3363.40,"l":3362.68,"c":3363.40,"p":1.6},
{"m":553,"o":3364.28,"h":3364.28,"l":3362.54,"c":3362.54,"p":1.3},
{"m":554,"o":3362.51,"h":3362.98,"l":3362.51,"c":3362.98,"p":1.0},
{"m":555,"o":3362.98,"h":3362.98,"l":3362.13,"c":3362.13,"p":0.7},
{"m":556,"o":3362.75,"h":3362.75,"l":3362.09,"c":3362.09,"p":0.5},
{"m":557,"o":3362.18,"h":3362.18,"l":3361.62,"c":3361.62,"p":0.9},
{"m":558,"o":3361.50,"h":3362.39,"l":3361.50,"c":3362.39,"p":1.3},
{"m":559,"o":3362.17,"h":3362.17,"l":3361.08,"c":3361.08,"p":1.5},
{"m":560,"o":3361.35,"h":3361.35,"l":3360.23,"c":3360.23,"p":1.6},
{"m":561,"o":3359.44,"h":3360.61,"l":3359.44,"c":3360.61,"p":1.7},
{"m":562,"o":3360.61,"h":3360.61,"l":3359.40,"c":3359.40,"p":1.9},
{"m":563,"o":3359.63,"h":3359.63,"l":3359.02,"c":3359.02,"p":2.2},
{"m":564,"o":3358.90,"h":3359.47,"l":3358.90,"c":3359.47,"p":2.5},
{"m":565,"o":3358.98,"h":3360.95,"l":3358.98,"c":3360.95,"p":2.7},
{"m":566,"o":3360.38,"h":3360.38,"l":3359.15,"c":3359.15,"p":2.65},
{"m":567,"o":3359.62,"h":3360.34,"l":3359.62,"c":3360.34,"p":2.5},
{"m":568,"o":3360.72,"h":3360.72,"l":3359.85,"c":3359.85,"p":2.2},
{"m":569,"o":3359.59,"h":3360.46,"l":3359.59,"c":3360.46,"p":2.0},
{"m":570,"o":3359.44,"h":3360.72,"l":3359.44,"c":3360.72,"p":1.9},
{"m":571,"o":3360.63,"h":3360.63,"l":3359.87,"c":3359.87,"p":1.8},
{"m":572,"o":3359.85,"h":3360.30,"l":3359.85,"c":3360.30,"p":1.9},
{"m":573,"o":3360.34,"h":3360.34,"l":3358.86,"c":3358.86,"p":1.7},
{"m":574,"o":3358.30,"h":3359.12,"l":3358.30,"c":3359.12,"p":1.4},
{"m":575,"o":3359.09,"h":3359.62,"l":3359.09,"c":3359.62,"p":1.2},
{"m":576,"o":3358.76,"h":3359.80,"l":3358.76,"c":3359.80,"p":1.0},
{"m":577,"o":3359.70,"h":3360.72,"l":3359.70,"c":3360.72,"p":0.8},
{"m":578,"o":3360.51,"h":3362.11,"l":3360.51,"c":3362.11,"p":0.6},
{"m":579,"o":3361.90,"h":3362.45,"l":3361.90,"c":3362.45,"p":0.4},
{"m":580,"o":3362.89,"h":3362.89,"l":3361.33,"c":3361.33,"p":0.3},
{"m":581,"o":3361.84,"h":3361.84,"l":3360.80,"c":3360.80,"p":0.2},
{"m":582,"o":3361.18,"h":3361.18,"l":3360.70,"c":3360.70,"p":0.1},
{"m":583,"o":3360.76,"h":3361.41,"l":3360.76,"c":3361.41,"p":0},
{"m":584,"o":3360.99,"h":3361.87,"l":3360.99,"c":3361.87,"p":0.2},
{"m":585,"o":3361.64,"h":3361.64,"l":3360.99,"c":3360.99,"p":0.3},
{"m":586,"o":3360.80,"h":3361.66,"l":3360.80,"c":3361.66,"p":0.1},
{"m":587,"o":3361.14,"h":3362.13,"l":3361.14,"c":3362.13,"p":0},
{"m":588,"o":3361.88,"h":3361.88,"l":3361.15,"c":3361.15,"p":0.2},
{"m":589,"o":3361.41,"h":3361.94,"l":3361.41,"c":3361.94,"p":0.4},
{"m":590,"o":3362.07,"h":3362.07,"l":3361.41,"c":3361.41,"p":0.9},
{"m":591,"o":3361.03,"h":3361.69,"l":3361.03,"c":3361.69,"p":1.3},
{"m":592,"o":3360.99,"h":3361.50,"l":3360.99,"c":3361.50,"p":1.6},
{"m":593,"o":3361.26,"h":3361.26,"l":3359.82,"c":3359.82,"p":1.8},
{"m":594,"o":3360.39,"h":3360.39,"l":3359.28,"c":3359.28,"p":1.7},
{"m":595,"o":3359.43,"h":3359.43,"l":3358.55,"c":3358.55,"p":1.9},
{"m":596,"o":3358.90,"h":3358.90,"l":3357.71,"c":3357.71,"p":2.1},
{"m":597,"o":3357.61,"h":3358.87,"l":3357.61,"c":3358.87,"p":2.2},
{"m":598,"o":3358.87,"h":3358.87,"l":3357.99,"c":3357.99,"p":2.25},
{"m":599,"o":3357.92,"h":3358.45,"l":3357.92,"c":3358.45,"p":2.2},
{"m":600,"o":3358.55,"h":3358.55,"l":3357.73,"c":3357.73,"p":2.1},
{"m":601,"o":3358.45,"h":3358.45,"l":3357.88,"c":3357.88,"p":2.2},
{"m":602,"o":3357.54,"h":3358.32,"l":3357.54,"c":3358.32,"p":2.25},
{"m":603,"o":3357.94,"h":3359.59,"l":3357.94,"c":3359.59,"p":2.1},
{"m":604,"o":3358.74,"h":3358.74,"l":3357.85,"c":3357.85,"p":1.9},
{"m":605,"o":3358.71,"h":3358.71,"l":3357.92,"c":3357.92,"p":1.7},
{"m":606,"o":3357.88,"h":3359.59,"l":3357.88,"c":3359.59,"p":1.6},
{"m":607,"o":3358.87,"h":3359.24,"l":3358.87,"c":3359.24,"p":1.5},
{"m":608,"o":3359.02,"h":3359.47,"l":3359.02,"c":3359.47,"p":1.3},
{"m":609,"o":3359.02,"h":3359.85,"l":3359.02,"c":3359.85,"p":1.0},
{"m":610,"o":3359.59,"h":3360.23,"l":3359.59,"c":3360.23,"p":0.7},
{"m":611,"o":3360.19,"h":3360.19,"l":3359.19,"c":3359.19,"p":0.5},
{"m":612,"o":3359.47,"h":3359.47,"l":3358.22,"c":3358.22,"p":0.3},
{"m":613,"o":3358.74,"h":3359.92,"l":3358.74,"c":3359.92,"p":0.2},
{"m":614,"o":3359.66,"h":3360.61,"l":3359.66,"c":3360.61,"p":0.1},
{"m":615,"o":3360.58,"h":3361.35,"l":3360.58,"c":3361.35,"p":0},
{"m":616,"o":3361.05,"h":3361.47,"l":3361.05,"c":3361.47,"p":0.1},
{"m":617,"o":3361.46,"h":3361.46,"l":3361.02,"c":3361.02,"p":0.2},
{"m":618,"o":3360.48,"h":3361.35,"l":3360.48,"c":3361.35,"p":0.3},
{"m":619,"o":3361.27,"h":3361.27,"l":3360.48,"c":3360.48,"p":0.2},
{"m":620,"o":3360.57,"h":3360.76,"l":3360.57,"c":3360.76,"p":0.1},
{"m":621,"o":3360.58,"h":3361.65,"l":3360.58,"c":3361.65,"p":0},
{"m":622,"o":3361.54,"h":3362.60,"l":3361.54,"c":3362.60,"p":0},
{"m":623,"o":3362.58,"h":3362.89,"l":3362.58,"c":3362.89,"p":0.2},
{"m":624,"o":3363.25,"h":3363.25,"l":3362.28,"c":3362.28,"p":0.4},
{"m":625,"o":3362.00,"h":3362.87,"l":3362.00,"c":3362.87,"p":0.3},
{"m":626,"o":3362.99,"h":3362.99,"l":3361.98,"c":3361.98,"p":0.5},
{"m":627,"o":3362.51,"h":3363.20,"l":3362.51,"c":3363.20,"p":0.6},
{"m":628,"o":3362.77,"h":3363.20,"l":3362.77,"c":3363.20,"p":0.4},
{"m":629,"o":3362.64,"h":3363.08,"l":3362.64,"c":3363.08,"p":0.2},
{"m":630,"o":3362.99,"h":3362.99,"l":3362.09,"c":3362.09,"p":0.1},
{"m":631,"o":3361.94,"h":3362.77,"l":3361.94,"c":3362.77,"p":0},
{"m":632,"o":3363.24,"h":3363.24,"l":3362.47,"c":3362.47,"p":0.1},
{"m":633,"o":3362.99,"h":3362.99,"l":3362.47,"c":3362.47,"p":0.3},
{"m":634,"o":3362.39,"h":3362.82,"l":3362.39,"c":3362.82,"p":0.2},
{"m":635,"o":3361.79,"h":3362.79,"l":3361.79,"c":3362.79,"p":0.1},
{"m":636,"o":3362.54,"h":3363.05,"l":3362.54,"c":3363.05,"p":0},
{"m":637,"o":3363.30,"h":3363.30,"l":3362.86,"c":3362.86,"p":0.2},
{"m":638,"o":3363.05,"h":3363.05,"l":3361.94,"c":3361.94,"p":0.3},
{"m":639,"o":3362.22,"h":3363.27,"l":3362.22,"c":3363.27,"p":0.5},
{"m":640,"o":3363.21,"h":3363.21,"l":3362.66,"c":3362.66,"p":0.4},
{"m":641,"o":3362.66,"h":3363.43,"l":3362.66,"c":3363.43,"p":0.3},
{"m":642,"o":3363.02,"h":3363.68,"l":3363.02,"c":3363.68,"p":0.2},
{"m":643,"o":3363.50,"h":3363.50,"l":3362.89,"c":3362.89,"p":0.1},
{"m":644,"o":3363.31,"h":3363.81,"l":3363.31,"c":3363.81,"p":0},
{"m":645,"o":3363.63,"h":3364.84,"l":3363.63,"c":3364.84,"p":0.1},
{"m":646,"o":3365.14,"h":3365.14,"l":3364.23,"c":3364.23,"p":0.2},
{"m":647,"o":3364.80,"h":3364.80,"l":3364.16,"c":3364.16,"p":0.4},
{"m":648,"o":3364.19,"h":3364.84,"l":3364.19,"c":3364.84,"p":0.5},
{"m":649,"o":3364.54,"h":3364.54,"l":3363.63,"c":3363.63,"p":0.3},
{"m":650,"o":3363.81,"h":3364.42,"l":3363.81,"c":3364.42,"p":0.2},
{"m":651,"o":3364.38,"h":3364.38,"l":3363.91,"c":3363.91,"p":0.1},
{"m":652,"o":3363.81,"h":3364.29,"l":3363.81,"c":3364.29,"p":0.2},
{"m":653,"o":3363.87,"h":3364.34,"l":3363.87,"c":3364.34,"p":0.3},
{"m":654,"o":3364.84,"h":3364.84,"l":3364.10,"c":3364.10,"p":0.4},
{"m":655,"o":3363.93,"h":3364.42,"l":3363.93,"c":3364.42,"p":0.6},
{"m":656,"o":3364.70,"h":3364.70,"l":3363.91,"c":3363.91,"p":0.8},
{"m":657,"o":3364.06,"h":3364.44,"l":3364.06,"c":3364.44,"p":1.0},
{"m":658,"o":3364.16,"h":3364.57,"l":3364.16,"c":3364.57,"p":1.1},
{"m":659,"o":3364.70,"h":3364.70,"l":3363.85,"c":3363.85,"p":1.2},
{"m":660,"o":3363.08,"h":3365.33,"l":3363.08,"c":3365.33,"p":1.3},
{"m":661,"o":3365.06,"h":3365.06,"l":3363.30,"c":3363.30,"p":1.2},
{"m":662,"o":3363.36,"h":3363.36,"l":3362.07,"c":3362.07,"p":1.1},
{"m":663,"o":3362.51,"h":3363.69,"l":3362.51,"c":3363.69,"p":1.2},
{"m":664,"o":3363.27,"h":3363.93,"l":3363.27,"c":3363.93,"p":1.0},
{"m":665,"o":3363.40,"h":3364.04,"l":3363.40,"c":3364.04,"p":0.9},
{"m":666,"o":3364.42,"h":3364.42,"l":3363.34,"c":3363.34,"p":0.8},
{"m":667,"o":3364.26,"h":3364.26,"l":3363.91,"c":3363.91,"p":0.6},
{"m":668,"o":3363.59,"h":3364.64,"l":3363.59,"c":3364.64,"p":0.5},
{"m":669,"o":3365.10,"h":3365.10,"l":3363.97,"c":3363.97,"p":0.4},
{"m":670,"o":3364.00,"h":3364.67,"l":3364.00,"c":3364.67,"p":0.5},
{"m":671,"o":3364.64,"h":3365.48,"l":3364.64,"c":3365.48,"p":0.8},
{"m":672,"o":3365.60,"h":3365.60,"l":3364.67,"c":3364.67,"p":1.2},
{"m":673,"o":3364.89,"h":3364.89,"l":3364.00,"c":3364.00,"p":1.8},
{"m":674,"o":3364.12,"h":3364.12,"l":3363.08,"c":3363.08,"p":2.4},
{"m":675,"o":3363.21,"h":3363.21,"l":3361.84,"c":3361.84,"p":2.9},
{"m":676,"o":3362.26,"h":3362.26,"l":3360.48,"c":3360.48,"p":3.3},
{"m":677,"o":3360.77,"h":3360.77,"l":3358.74,"c":3358.74,"p":3.9},
{"m":678,"o":3358.77,"h":3359.88,"l":3358.77,"c":3359.88,"p":4.3},
{"m":679,"o":3359.59,"h":3359.59,"l":3358.77,"c":3358.77,"p":4.45},
{"m":680,"o":3359.08,"h":3359.08,"l":3358.03,"c":3358.03,"p":4.5},
{"m":681,"o":3358.93,"h":3358.93,"l":3357.84,"c":3357.84,"p":4.45},
{"m":682,"o":3358.03,"h":3358.03,"l":3357.54,"c":3357.54,"p":4.4},
{"m":683,"o":3356.55,"h":3358.11,"l":3356.55,"c":3358.11,"p":4.5},
{"m":684,"o":3358.07,"h":3358.07,"l":3356.83,"c":3356.83,"p":4.55},
{"m":685,"o":3357.97,"h":3357.97,"l":3357.31,"c":3357.31,"p":4.5},
{"m":686,"o":3358.09,"h":3358.09,"l":3357.33,"c":3357.33,"p":4.45},
{"m":687,"o":3357.08,"h":3358.55,"l":3357.08,"c":3358.55,"p":4.4},
{"m":688,"o":3358.07,"h":3358.07,"l":3356.74,"c":3356.74,"p":4.45},
{"m":689,"o":3357.31,"h":3357.88,"l":3357.31,"c":3357.88,"p":4.4},
{"m":690,"o":3357.56,"h":3358.93,"l":3357.56,"c":3358.93,"p":4.3},
{"m":691,"o":3358.45,"h":3359.75,"l":3358.45,"c":3359.75,"p":4.0},
{"m":692,"o":3359.36,"h":3360.77,"l":3359.36,"c":3360.77,"p":3.0},
{"m":693,"o":3359.97,"h":3361.75,"l":3359.97,"c":3361.75,"p":1.5},
{"m":694,"o":3362.03,"h":3362.03,"l":3361.40,"c":3361.40,"p":0.1},
{"m":695,"o":3361.24,"h":3362.36,"l":3361.24,"c":3362.36,"p":0},
{"m":696,"o":3362.70,"h":3362.70,"l":3362.28,"c":3362.28,"p":0.1},
{"m":697,"o":3362.19,"h":3362.66,"l":3362.19,"c":3362.66,"p":0.3},
{"m":698,"o":3362.41,"h":3363.17,"l":3362.41,"c":3363.17,"p":0.2},
{"m":699,"o":3363.27,"h":3363.27,"l":3362.58,"c":3362.58,"p":0.1},
{"m":700,"o":3363.08,"h":3363.08,"l":3362.39,"c":3362.39,"p":0},
{"m":701,"o":3362.11,"h":3363.16,"l":3362.11,"c":3363.16,"p":0.2},
{"m":702,"o":3362.98,"h":3363.69,"l":3362.98,"c":3363.69,"p":0.3},
{"m":703,"o":3363.78,"h":3363.78,"l":3363.15,"c":3363.15,"p":0.1},
{"m":704,"o":3363.43,"h":3363.43,"l":3362.45,"c":3362.45,"p":0},
{"m":705,"o":3362.79,"h":3362.79,"l":3361.43,"c":3361.43,"p":0},
{"m":706,"o":3361.05,"h":3362.51,"l":3361.05,"c":3362.51,"p":0.2},
{"m":707,"o":3362.19,"h":3362.89,"l":3362.19,"c":3362.89,"p":0.4},
{"m":708,"o":3362.47,"h":3362.47,"l":3361.43,"c":3361.43,"p":0.3},
{"m":709,"o":3361.43,"h":3362.26,"l":3361.43,"c":3362.26,"p":0.1},
{"m":710,"o":3362.19,"h":3363.31,"l":3362.19,"c":3363.31,"p":0},
{"m":711,"o":3362.89,"h":3363.50,"l":3362.89,"c":3363.50,"p":0.2},
{"m":712,"o":3363.08,"h":3363.68,"l":3363.08,"c":3363.68,"p":0.3},
{"m":713,"o":3363.74,"h":3363.74,"l":3362.68,"c":3362.68,"p":0.2},
{"m":714,"o":3363.27,"h":3363.95,"l":3363.27,"c":3363.95,"p":0.1},
{"m":715,"o":3363.72,"h":3363.72,"l":3363.08,"c":3363.08,"p":0},
{"m":716,"o":3363.59,"h":3363.59,"l":3362.87,"c":3362.87,"p":0.1},
{"m":717,"o":3362.89,"h":3363.43,"l":3362.89,"c":3363.43,"p":0.4},
{"m":718,"o":3363.31,"h":3363.31,"l":3360.35,"c":3360.35,"p":0.6},
{"m":719,"o":3360.74,"h":3361.98,"l":3360.74,"c":3361.98,"p":0.85},
{"m":720,"o":3360.89,"h":3361.97,"l":3360.89,"c":3361.97,"p":0.7},
{"m":721,"o":3362.42,"h":3362.42,"l":3361.65,"c":3361.65,"p":0.6},
{"m":722,"o":3361.53,"h":3362.70,"l":3361.53,"c":3362.70,"p":0.4},
{"m":723,"o":3362.68,"h":3363.50,"l":3362.68,"c":3363.50,"p":0.2},
{"m":724,"o":3362.92,"h":3364.33,"l":3362.92,"c":3364.33,"p":0.1},
{"m":725,"o":3363.46,"h":3364.38,"l":3363.46,"c":3364.38,"p":0},
{"m":726,"o":3364.67,"h":3364.67,"l":3363.59,"c":3363.59,"p":0.2},
{"m":727,"o":3363.88,"h":3364.67,"l":3363.88,"c":3364.67,"p":0.3},
{"m":728,"o":3364.61,"h":3364.61,"l":3363.91,"c":3363.91,"p":0.1},
{"m":729,"o":3364.35,"h":3364.35,"l":3363.53,"c":3363.53,"p":0},
{"m":730,"o":3363.50,"h":3364.29,"l":3363.50,"c":3364.29,"p":0.1},
{"m":731,"o":3364.61,"h":3364.61,"l":3364.04,"c":3364.04,"p":0.2},
{"m":732,"o":3364.64,"h":3364.64,"l":3363.53,"c":3363.53,"p":0.4},
{"m":733,"o":3363.55,"h":3363.55,"l":3362.96,"c":3362.96,"p":0.8},
{"m":734,"o":3363.53,"h":3363.53,"l":3362.96,"c":3362.96,"p":1.3},
{"m":735,"o":3363.58,"h":3363.58,"l":3362.60,"c":3362.60,"p":1.9},
{"m":736,"o":3362.99,"h":3362.99,"l":3360.89,"c":3360.89,"p":2.4},
{"m":737,"o":3361.22,"h":3361.22,"l":3360.39,"c":3360.39,"p":2.7},
{"m":738,"o":3360.57,"h":3360.57,"l":3359.28,"c":3359.28,"p":2.5},
{"m":739,"o":3359.06,"h":3359.77,"l":3359.06,"c":3359.77,"p":2.0},
{"m":740,"o":3359.75,"h":3361.34,"l":3359.75,"c":3361.34,"p":1.8},
{"m":741,"o":3361.37,"h":3361.37,"l":3360.35,"c":3360.35,"p":2.1},
{"m":742,"o":3361.33,"h":3361.33,"l":3360.35,"c":3360.35,"p":2.4},
{"m":743,"o":3360.35,"h":3361.83,"l":3360.35,"c":3361.83,"p":2.2},
{"m":744,"o":3361.81,"h":3362.73,"l":3361.81,"c":3362.73,"p":1.9},
{"m":745,"o":3362.74,"h":3363.38,"l":3362.74,"c":3363.38,"p":1.7},
{"m":746,"o":3363.65,"h":3363.65,"l":3362.70,"c":3362.70,"p":1.6},
{"m":747,"o":3363.27,"h":3363.27,"l":3362.51,"c":3362.51,"p":1.8},
{"m":748,"o":3362.60,"h":3362.60,"l":3361.84,"c":3361.84,"p":1.7},
{"m":749,"o":3361.98,"h":3361.98,"l":3361.18,"c":3361.18,"p":1.6},
{"m":750,"o":3361.24,"h":3361.24,"l":3360.46,"c":3360.46,"p":1.8},
{"m":751,"o":3361.08,"h":3361.08,"l":3359.28,"c":3359.28,"p":1.7},
{"m":752,"o":3361.24,"h":3361.24,"l":3359.21,"c":3359.21,"p":1.5},
{"m":753,"o":3358.58,"h":3360.01,"l":3358.58,"c":3360.01,"p":1.3},
{"m":754,"o":3359.87,"h":3360.68,"l":3359.87,"c":3360.68,"p":1.0},
{"m":755,"o":3360.68,"h":3360.68,"l":3359.27,"c":3359.27,"p":0.6},
{"m":756,"o":3359.96,"h":3359.96,"l":3359.08,"c":3359.08,"p":0.3},
{"m":757,"o":3359.21,"h":3361.22,"l":3359.21,"c":3361.22,"p":0.1},
{"m":758,"o":3361.01,"h":3361.62,"l":3361.01,"c":3361.62,"p":0},
{"m":759,"o":3361.43,"h":3362.77,"l":3361.43,"c":3362.77,"p":0.2},
{"m":760,"o":3362.64,"h":3363.15,"l":3362.64,"c":3363.15,"p":0.3},
{"m":761,"o":3362.85,"h":3362.85,"l":3361.98,"c":3361.98,"p":0.1},
{"m":762,"o":3362.83,"h":3362.83,"l":3362.00,"c":3362.00,"p":0},
{"m":763,"o":3362.66,"h":3362.66,"l":3361.94,"c":3361.94,"p":0},
{"m":764,"o":3361.88,"h":3362.26,"l":3361.88,"c":3362.26,"p":0.2},
{"m":765,"o":3362.28,"h":3362.28,"l":3361.15,"c":3361.15,"p":0.3},
{"m":766,"o":3360.99,"h":3361.65,"l":3360.99,"c":3361.65,"p":0.2},
{"m":767,"o":3361.37,"h":3361.88,"l":3361.37,"c":3361.88,"p":0.1},
{"m":768,"o":3361.50,"h":3362.22,"l":3361.50,"c":3362.22,"p":0},
{"m":769,"o":3361.50,"h":3362.19,"l":3361.50,"c":3362.19,"p":0.1},
{"m":770,"o":3361.50,"h":3362.13,"l":3361.50,"c":3362.13,"p":0.2},
{"m":771,"o":3362.17,"h":3362.17,"l":3361.14,"c":3361.14,"p":0.4},
{"m":772,"o":3361.65,"h":3362.36,"l":3361.65,"c":3362.36,"p":0.3},
{"m":773,"o":3362.03,"h":3362.66,"l":3362.03,"c":3362.66,"p":0.1},
{"m":774,"o":3362.45,"h":3362.45,"l":3362.16,"c":3362.16,"p":0},
{"m":775,"o":3361.94,"h":3362.31,"l":3361.94,"c":3362.31,"p":0},
{"m":776,"o":3362.38,"h":3363.01,"l":3362.38,"c":3363.01,"p":0.2},
{"m":777,"o":3362.41,"h":3363.43,"l":3362.41,"c":3363.43,"p":0.1},
{"m":778,"o":3363.24,"h":3363.24,"l":3362.45,"c":3362.45,"p":0},
{"m":779,"o":3362.83,"h":3363.62,"l":3362.83,"c":3363.62,"p":0.2},
{"m":780,"o":3363.68,"h":3363.68,"l":3363.15,"c":3363.15,"p":0.3},
{"m":781,"o":3363.50,"h":3363.50,"l":3362.36,"c":3362.36,"p":0.2},
{"m":782,"o":3362.87,"h":3364.03,"l":3362.87,"c":3364.03,"p":0.3},
{"m":783,"o":3363.74,"h":3364.77,"l":3363.74,"c":3364.77,"p":0.4},
{"m":784,"o":3364.42,"h":3364.80,"l":3364.42,"c":3364.80,"p":0.5},
{"m":785,"o":3364.71,"h":3366.07,"l":3364.71,"c":3366.07,"p":0.6},
{"m":786,"o":3365.24,"h":3365.24,"l":3363.97,"c":3363.97,"p":0.5},
{"m":787,"o":3365.18,"h":3365.18,"l":3364.06,"c":3364.06,"p":0.4},
{"m":788,"o":3364.35,"h":3364.35,"l":3363.74,"c":3363.74,"p":0.3},
{"m":789,"o":3363.50,"h":3364.29,"l":3363.50,"c":3364.29,"p":0.5},
{"m":790,"o":3364.31,"h":3364.31,"l":3363.46,"c":3363.46,"p":0.6},
{"m":791,"o":3363.97,"h":3364.29,"l":3363.97,"c":3364.29,"p":0.4},
{"m":792,"o":3364.57,"h":3364.57,"l":3363.59,"c":3363.59,"p":0.3},
{"m":793,"o":3363.81,"h":3364.57,"l":3363.81,"c":3364.57,"p":0.2},
{"m":794,"o":3364.26,"h":3364.73,"l":3364.26,"c":3364.73,"p":0.1},
{"m":795,"o":3364.48,"h":3364.77,"l":3364.48,"c":3364.77,"p":0},
{"m":796,"o":3364.57,"h":3365.18,"l":3364.57,"c":3365.18,"p":0.1},
{"m":797,"o":3365.27,"h":3365.27,"l":3364.48,"c":3364.48,"p":0.2},
{"m":798,"o":3365.20,"h":3365.20,"l":3364.16,"c":3364.16,"p":0.3},
{"m":799,"o":3364.31,"h":3365.52,"l":3364.31,"c":3365.52,"p":0.2},
{"m":800,"o":3365.37,"h":3365.71,"l":3365.37,"c":3365.71,"p":0.1},
{"m":801,"o":3365.39,"h":3365.90,"l":3365.39,"c":3365.90,"p":0},
{"m":802,"o":3365.75,"h":3366.28,"l":3365.75,"c":3366.28,"p":0.5},
{"m":803,"o":3366.23,"h":3366.23,"l":3365.71,"c":3365.71,"p":1.0},
{"m":804,"o":3366.10,"h":3366.10,"l":3364.50,"c":3364.50,"p":1.6},
{"m":805,"o":3364.57,"h":3364.57,"l":3363.50,"c":3363.50,"p":1.9},
{"m":806,"o":3364.22,"h":3364.22,"l":3363.59,"c":3363.59,"p":2.1},
{"m":807,"o":3363.53,"h":3364.16,"l":3363.53,"c":3364.16,"p":2.2},
{"m":808,"o":3364.10,"h":3364.10,"l":3363.17,"c":3363.17,"p":2.3},
{"m":809,"o":3363.75,"h":3363.75,"l":3363.08,"c":3363.08,"p":2.4},
{"m":810,"o":3363.12,"h":3363.12,"l":3362.45,"c":3362.45,"p":2.45},
{"m":811,"o":3362.55,"h":3362.85,"l":3362.55,"c":3362.85,"p":2.4},
{"m":812,"o":3362.79,"h":3363.30,"l":3362.79,"c":3363.30,"p":2.3},
{"m":813,"o":3363.30,"h":3363.30,"l":3362.89,"c":3362.89,"p":2.4},
{"m":814,"o":3362.85,"h":3363.43,"l":3362.85,"c":3363.43,"p":2.35},
{"m":815,"o":3363.11,"h":3363.11,"l":3362.47,"c":3362.47,"p":2.2},
{"m":816,"o":3362.70,"h":3363.43,"l":3362.70,"c":3363.43,"p":2.1},
{"m":817,"o":3363.46,"h":3364.20,"l":3363.46,"c":3364.20,"p":2.0},
{"m":818,"o":3364.45,"h":3364.45,"l":3363.49,"c":3363.49,"p":1.9},
{"m":819,"o":3363.65,"h":3363.65,"l":3363.30,"c":3363.30,"p":1.8},
{"m":820,"o":3363.34,"h":3363.34,"l":3363.02,"c":3363.02,"p":1.7},
{"m":821,"o":3363.15,"h":3363.15,"l":3362.57,"c":3362.57,"p":1.9},
{"m":822,"o":3363.02,"h":3363.02,"l":3361.98,"c":3361.98,"p":2.0},
{"m":823,"o":3362.49,"h":3362.89,"l":3362.49,"c":3362.89,"p":1.8},
{"m":824,"o":3362.99,"h":3362.99,"l":3362.51,"c":3362.51,"p":1.7},
{"m":825,"o":3362.77,"h":3362.77,"l":3362.11,"c":3362.11,"p":1.8},
{"m":826,"o":3362.11,"h":3362.77,"l":3362.11,"c":3362.77,"p":1.7},
{"m":827,"o":3363.15,"h":3363.15,"l":3362.89,"c":3362.89,"p":1.6},
{"m":828,"o":3362.93,"h":3362.93,"l":3362.41,"c":3362.41,"p":1.5},
{"m":829,"o":3362.92,"h":3362.92,"l":3362.13,"c":3362.13,"p":1.6},
{"m":830,"o":3362.60,"h":3362.60,"l":3361.94,"c":3361.94,"p":1.4},
{"m":831,"o":3361.72,"h":3362.35,"l":3361.72,"c":3362.35,"p":1.5},
{"m":832,"o":3361.94,"h":3362.54,"l":3361.94,"c":3362.54,"p":1.7},
{"m":833,"o":3362.47,"h":3362.47,"l":3361.90,"c":3361.90,"p":1.6},
{"m":834,"o":3362.26,"h":3362.26,"l":3361.88,"c":3361.88,"p":1.4},
{"m":835,"o":3362.36,"h":3362.36,"l":3361.65,"c":3361.65,"p":1.5},
{"m":836,"o":3362.00,"h":3362.00,"l":3361.27,"c":3361.27,"p":1.6},
{"m":837,"o":3361.94,"h":3361.94,"l":3361.27,"c":3361.27,"p":1.5},
{"m":838,"o":3361.65,"h":3362.00,"l":3361.65,"c":3362.00,"p":1.4},
{"m":839,"o":3362.16,"h":3362.16,"l":3361.46,"c":3361.46,"p":1.3},
{"m":840,"o":3361.24,"h":3361.62,"l":3361.24,"c":3361.62,"p":1.2},
{"m":841,"o":3361.05,"h":3362.09,"l":3361.05,"c":3362.09,"p":1.1},
{"m":842,"o":3361.11,"h":3362.00,"l":3361.11,"c":3362.00,"p":1.2},
{"m":843,"o":3361.75,"h":3361.75,"l":3361.46,"c":3361.46,"p":1.0},
{"m":844,"o":3361.46,"h":3361.46,"l":3360.61,"c":3360.61,"p":0.9},
{"m":845,"o":3361.43,"h":3361.43,"l":3360.54,"c":3360.54,"p":0.7},
{"m":846,"o":3361.11,"h":3361.11,"l":3360.16,"c":3360.16,"p":0.5},
{"m":847,"o":3360.54,"h":3360.54,"l":3359.72,"c":3359.72,"p":0.3},
{"m":848,"o":3359.91,"h":3359.91,"l":3358.98,"c":3358.98,"p":0.1},
{"m":849,"o":3359.44,"h":3360.23,"l":3359.44,"c":3360.23,"p":0},
{"m":850,"o":3361.41,"h":3361.41,"l":3360.12,"c":3360.12,"p":0},
{"m":851,"o":3359.91,"h":3361.47,"l":3359.91,"c":3361.47,"p":0.1},
{"m":852,"o":3360.42,"h":3360.80,"l":3360.42,"c":3360.80,"p":0.2},
{"m":853,"o":3360.67,"h":3360.67,"l":3360.10,"c":3360.10,"p":0},
{"m":854,"o":3360.32,"h":3361.03,"l":3360.32,"c":3361.03,"p":0},
{"m":855,"o":3361.08,"h":3361.08,"l":3360.73,"c":3360.73,"p":0.2},
{"m":856,"o":3360.96,"h":3360.96,"l":3360.23,"c":3360.23,"p":0.3},
{"m":857,"o":3360.29,"h":3360.29,"l":3359.74,"c":3359.74,"p":0.1},
{"m":858,"o":3360.04,"h":3360.04,"l":3359.27,"c":3359.27,"p":0},
{"m":859,"o":3359.72,"h":3359.72,"l":3359.12,"c":3359.12,"p":0.2},
{"m":860,"o":3358.98,"h":3359.31,"l":3358.98,"c":3359.31,"p":0.4},
{"m":861,"o":3358.96,"h":3359.85,"l":3358.96,"c":3359.85,"p":0.2},
{"m":862,"o":3359.72,"h":3359.72,"l":3358.70,"c":3358.70,"p":0.1},
{"m":863,"o":3359.02,"h":3359.02,"l":3358.45,"c":3358.45,"p":0},
{"m":864,"o":3358.47,"h":3358.89,"l":3358.47,"c":3358.89,"p":0.1},
{"m":865,"o":3358.83,"h":3358.83,"l":3358.26,"c":3358.26,"p":0.3},
{"m":866,"o":3358.13,"h":3358.55,"l":3358.13,"c":3358.55,"p":0.2},
{"m":867,"o":3358.16,"h":3358.51,"l":3358.16,"c":3358.51,"p":0},
{"m":868,"o":3358.68,"h":3358.68,"l":3357.90,"c":3357.90,"p":0},
{"m":869,"o":3358.45,"h":3358.45,"l":3357.88,"c":3357.88,"p":0.1},
{"m":870,"o":3357.54,"h":3358.66,"l":3357.54,"c":3358.66,"p":0.3},
{"m":871,"o":3358.07,"h":3358.32,"l":3358.07,"c":3358.32,"p":0.2},
{"m":872,"o":3359.31,"h":3359.31,"l":3358.22,"c":3358.22,"p":0.1},
{"m":873,"o":3358.26,"h":3359.30,"l":3358.26,"c":3359.30,"p":0.3},
{"m":874,"o":3359.21,"h":3359.21,"l":3358.41,"c":3358.41,"p":0.5},
{"m":875,"o":3358.13,"h":3358.13,"l":3357.75,"c":3357.75,"p":0.7},
{"m":876,"o":3357.78,"h":3357.78,"l":3356.67,"c":3356.67,"p":0.8},
{"m":877,"o":3356.58,"h":3357.50,"l":3356.58,"c":3357.50,"p":0.75},
{"m":878,"o":3356.58,"h":3357.71,"l":3356.58,"c":3357.71,"p":0.85},
{"m":879,"o":3357.69,"h":3357.69,"l":3357.31,"c":3357.31,"p":0.9},
{"m":880,"o":3357.56,"h":3358.03,"l":3357.56,"c":3358.03,"p":0.95},
{"m":881,"o":3357.99,"h":3358.66,"l":3357.99,"c":3358.30,"p":1.0557}
]},
"vconcat": [
{
"width": 1681, "height": 582,
"title": {"text": "▼ XAUUSD_o,M1\u00a0 3357.99 3358.66 3357.99 3358.30", "offset": -14, "dx": 4},
"layer": [
{"data": {"values": [{"bid": 3358.3}]},
 "mark": {"type": "rule", "color": "#778899", "strokeWidth": 1},
 "encoding": {"y": {"field": "bid", "type": "quantitative", "scale": {"domain": [3345.22, 3367.38], "nice": false, "zero": false},
   "axis": {"title": null, "orient": "right", "values": [3366.85, 3365.6, 3364.3, 3363.05, 3361.75, 3360.5, 3359.2, 3357.95, 3358.3, 3356.65, 3355.4, 3354.15, 3352.85, 3351.6, 3350.3, 3349.05, 3347.8, 3346.55, 3345.3],
    "format": ".2f", "labelOverlap": false, "labelPadding": {"condition": {"test": "datum.value == 3358.3", "value": -37}, "value": 2}, "tickSize": {"condition": {"test": "datum.value == 3358.3", "value": 41}, "value": 3},
    "tickWidth": {"condition": {"test": "datum.value == 3358.3", "value": 13}, "value": 1},
    "labelColor": {"condition": {"test": "datum.value == 3358.3", "value": "#000000"}, "value": "#ffffff"}}}}},
{"data": {"values": [{"shift": 881.5, "top": 3367.3}]},
 "mark": {"type": "point", "shape": "triangle-down", "filled": true, "size": 30, "color": "#8a8a8a", "opacity": 1},
 "encoding": {"x": {"field": "shift", "type": "quantitative", "scale": {"domain": [210.5, 1051], "nice": false, "zero": false}, "axis": null},
   "y": {"field": "top", "type": "quantitative", "scale": {"domain": [3345.22, 3367.38], "nice": false, "zero": false},
   "axis": {"title": null, "orient": "right", "values": [3366.85, 3365.6, 3364.3, 3363.05, 3361.75, 3360.5, 3359.2, 3357.95, 3358.3, 3356.65, 3355.4, 3354.15, 3352.85, 3351.6, 3350.3, 3349.05, 3347.8, 3346.55, 3345.3],
    "format": ".2f", "labelOverlap": false, "labelPadding": {"condition": {"test": "datum.value == 3358.3", "value": -37}, "value": 2}, "tickSize": {"condition": {"test": "datum.value == 3358.3", "value": 41}, "value": 3},
    "tickWidth": {"condition": {"test": "datum.value == 3358.3", "value": 13}, "value": 1},
    "labelColor": {"condition": {"test": "datum.value == 3358.3", "value": "#000000"}, "value": "#ffffff"}}}}},
{"data": {"name": "bars"},
 "mark": {"type": "rule", "strokeWidth": 1, "xOffset": 0.5},
 "encoding": {
  "x": {"field": "m", "type": "quantitative", "scale": {"domain": [210.5, 1051], "nice": false, "zero": false}, "axis": null},
  "y": {"field": "l", "type": "quantitative", "scale": {"domain": [3345.22, 3367.38], "nice": false, "zero": false},
   "axis": {"title": null, "orient": "right", "values": [3366.85, 3365.6, 3364.3, 3363.05, 3361.75, 3360.5, 3359.2, 3357.95, 3358.3, 3356.65, 3355.4, 3354.15, 3352.85, 3351.6, 3350.3, 3349.05, 3347.8, 3346.55, 3345.3],
    "format": ".2f", "labelOverlap": false, "labelPadding": {"condition": {"test": "datum.value == 3358.3", "value": -37}, "value": 2}, "tickSize": {"condition": {"test": "datum.value == 3358.3", "value": 41}, "value": 3},
    "tickWidth": {"condition": {"test": "datum.value == 3358.3", "value": 13}, "value": 1},
    "labelColor": {"condition": {"test": "datum.value == 3358.3", "value": "#000000"}, "value": "#ffffff"}}},
  "y2": {"field": "h"},
  "color": {"condition": {"test": "datum.c >= datum.o", "value": "#33dd33"}, "value": "#dd2222"}
 }}
]
},
{
"width": 1681, "height": 192,
"title": {"text": "pullback-factor-indicator 1.0557", "offset": -14, "dx": 5},
"data": {"name": "bars"},
"mark": {"type": "line", "color": "#0000ff", "strokeWidth": 1},
"encoding": {
 "x": {"field": "m", "type": "quantitative", "scale": {"domain": [210.5, 1051], "nice": false, "zero": false},
  "axis": {"title": null, "values": [211, 243, 275, 307, 339, 371, 403, 435, 467, 499, 531, 563, 595, 627, 659, 691, 723, 755, 787, 819, 851],
   "labelExpr": "datum.value == 211 ? '15 Jul 2025' : '15 Jul ' + (floor(datum.value/60) < 10 ? '0' : '') + floor(datum.value/60) + ':' + (datum.value % 60 < 10 ? '0' : '') + (datum.value % 60)",
   "labelAlign": "left", "labelFlush": false, "tickSize": 4, "labelPadding": 2, "labelOverlap": false}},
 "y": {"field": "p", "type": "quantitative", "scale": {"domain": [-0.02, 4.7895], "nice": false, "zero": false},
  "axis": {"title": null, "orient": "right", "values": [0, 4.7895], "format": ".4~f", "ticks": false, "labelPadding": 4, "labelFlush": true}}
}
}
]
}
